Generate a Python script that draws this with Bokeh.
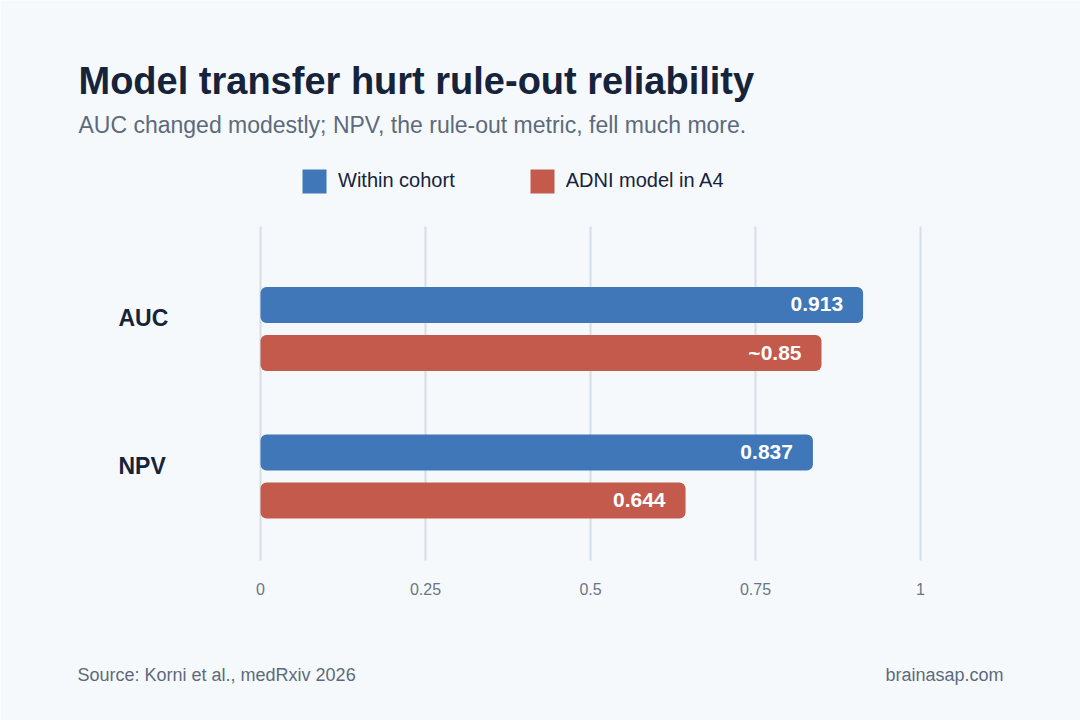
from bokeh.plotting import figure
from bokeh.models import (ColumnDataSource, Range1d, Label, Legend, LegendItem)
from bokeh.transform import dodge
from bokeh.core.properties import value
from bokeh.embed import file_html
from bokeh.resources import INLINE

# ---- data ----
metrics = ["AUC", "NPV"]
within_cohort = [0.913, 0.837]
adni_in_a4 = [0.85, 0.644]
within_labels = ["0.913", "0.837"]
adni_labels = ["~0.85", "0.644"]
series_names = ["Within cohort", "ADNI model in A4"]
x_ticks = [0, 0.25, 0.5, 0.75, 1]
x_tick_labels = ["0", "0.25", "0.5", "0.75", "1"]

title_text = "Model transfer hurt rule-out reliability"
subtitle_text = "AUC changed modestly; NPV, the rule-out metric, fell much more."
source_text = "Source: Korni et al., medRxiv 2026"
brand_text = "brainasap.com"

# ---- layout (pixels) ----
W, H = 1080, 720
PLOT_L, PLOT_R = 260, 920          # x = 0 and x = 1
PLOT_T, PLOT_B = 226, 560          # vertical extent of the grid
CAT0_Y, CAT_STEP = 328.5, 147.5    # centre of first category, px between categories
TICK_Y = 588

px_x = PLOT_R - PLOT_L
x_start = -PLOT_L / px_x
x_end = (W - PLOT_L) / px_x
y_top = -CAT0_Y / CAT_STEP
y_bot = (H - CAT0_Y) / CAT_STEP
grid_y0 = (PLOT_T - CAT0_Y) / CAT_STEP
grid_y1 = (PLOT_B - CAT0_Y) / CAT_STEP
tick_y = (TICK_Y - CAT0_Y) / CAT_STEP

OFF = 24 / CAT_STEP     # dodge of each bar from category centre
BH = 36 / CAT_STEP      # bar thickness

# ---- style ----
BG = "#f6f9fc"
BLUE = "#3f77b9"
RED = "#c45a4b"
DARK = "#15233b"
GREY = "#5d6a7b"
FONT = "Liberation Sans"

idx = list(range(len(metrics)))
src = ColumnDataSource(dict(
    idx=idx, metric=metrics,
    within=within_cohort, adni=adni_in_a4,
    wlab=within_labels, alab=adni_labels,
))
tick_src = ColumnDataSource(dict(
    x=x_ticks, lab=x_tick_labels,
    y0=[grid_y0] * len(x_ticks), y1=[grid_y1] * len(x_ticks), ty=[tick_y] * len(x_ticks),
))

p = figure(width=W, height=H, output_backend="svg", toolbar_location=None,
           x_range=Range1d(x_start, x_end), y_range=Range1d(y_bot, y_top),
           x_axis_location=None, y_axis_location=None, min_border=0)
p.background_fill_color = BG
p.border_fill_color = BG
p.outline_line_color = None
p.xgrid.grid_line_color = None
p.ygrid.grid_line_color = None

# grid lines
p.segment(x0="x", x1="x", y0="y0", y1="y1", source=tick_src,
          line_color="#d6dee6", line_width=2)
# tick labels
p.text(x="x", y="ty", text="lab", source=tick_src, text_align="center",
       text_baseline="middle", text_color="#6b7585", text_font=value(FONT),
       text_font_size="16px")

r1 = p.hbar(y=dodge("idx", -OFF, range=p.y_range), right="within", left=0, height=BH,
            source=src, fill_color=BLUE, line_color=None, border_radius=6)
r2 = p.hbar(y=dodge("idx", OFF, range=p.y_range), right="adni", left=0, height=BH,
            source=src, fill_color=RED, line_color=None, border_radius=6)

# value labels
p.text(x="within", y=dodge("idx", -OFF, range=p.y_range), text="wlab", source=src,
       x_offset=-20, y_offset=-1, text_align="right", text_baseline="middle",
       text_color="white", text_font=value(FONT), text_font_style="bold",
       text_font_size="21px")
p.text(x="adni", y=dodge("idx", OFF, range=p.y_range), text="alab", source=src,
       x_offset=-20, y_offset=-1, text_align="right", text_baseline="middle",
       text_color="white", text_font=value(FONT), text_font_style="bold",
       text_font_size="21px")

# category labels
p.text(x=0, y="idx", text="metric", source=src, x_offset=-142, y_offset=-11,
       text_align="left", text_baseline="middle", text_color=DARK,
       text_font=value(FONT), text_font_style="bold", text_font_size="23px")

# legend (area legend glyphs are drawn at 80% of the glyph box)
legend = Legend(items=[LegendItem(label=series_names[0], renderers=[r1]),
                       LegendItem(label=series_names[1], renderers=[r2])],
                location=(299, H - 195.5), orientation="horizontal",
                glyph_width=30, glyph_height=30, label_standoff=9, spacing=72,
                padding=0, margin=0, border_line_color=None,
                background_fill_alpha=0, label_text_font=FONT,
                label_text_font_size="20px", label_text_color=DARK,
                label_height=30)
p.add_layout(legend, "center")

# titles & footer (screen units from bottom-left of canvas)
p.add_layout(Label(x=78, y=H - 80.5, x_units="screen", y_units="screen", text=title_text,
                   text_font=FONT, text_font_style="bold", text_font_size="38px",
                   text_color=DARK, text_baseline="middle"))
p.add_layout(Label(x=78, y=H - 124, x_units="screen", y_units="screen", text=subtitle_text,
                   text_font=FONT, text_font_size="23px", text_color=GREY,
                   text_baseline="middle"))
p.add_layout(Label(x=77, y=H - 674.7, x_units="screen", y_units="screen", text=source_text,
                   text_font=FONT, text_font_size="18px", text_color=GREY,
                   text_baseline="middle"))
p.add_layout(Label(x=1003, y=H - 674.7, x_units="screen", y_units="screen", text=brand_text,
                   text_font=FONT, text_font_size="18px", text_color=GREY,
                   text_align="right", text_baseline="middle"))

open("out.html", "w").write(file_html(p, INLINE))
